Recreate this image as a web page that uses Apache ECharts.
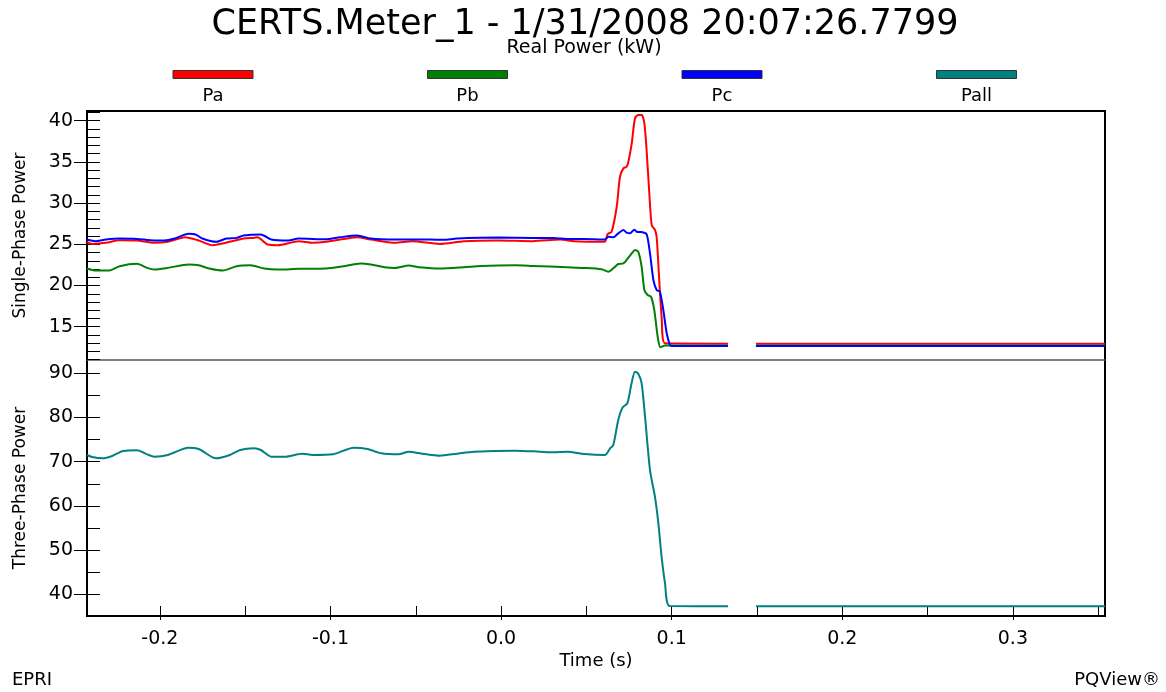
<!DOCTYPE html>
<html><head><meta charset="utf-8">
<script src="https://cdn.jsdelivr.net/npm/echarts@6/dist/echarts.min.js"></script>
<style>html,body{margin:0;padding:0;background:#fff}#c{width:1166px;height:692px}</style>
</head><body><div id="c"></div>
<script>
// ---- data (time in seconds, power in kW) ----
const paTime = [-0.2427,-0.2397,-0.2316,-0.2236,-0.2134,-0.2033,-0.1953,-0.1852,-0.1772,-0.1691,-0.1590,-0.1509,-0.1449,-0.1428,-0.1368,-0.1308,-0.1186,-0.1105,-0.1025,-0.0904,-0.0844,-0.0763,-0.0622,-0.0521,-0.0359,-0.0218,-0.0016,0.0186,0.0347,0.0428,0.0589,0.0609,0.0625,0.0648,0.0678,0.0697,0.0717,0.0736,0.0746,0.0766,0.0785,0.0804,0.0824,0.0840,0.0853,0.0869,0.0883,0.0902,0.0912,0.0926,0.0941,0.0961,0.1330,0.1410,0.1494,0.3540];
const paValues = [25.30,25.05,25.18,25.50,25.46,25.18,25.30,25.86,25.46,24.89,25.30,25.70,25.78,25.86,24.97,24.89,25.38,25.18,25.30,25.70,25.86,25.58,25.18,25.38,25.05,25.38,25.46,25.38,25.58,25.38,25.30,25.32,26.25,26.53,29.56,33.2,34.22,34.42,35.0,37.26,40.29,40.7,40.7,39.68,36.44,31.19,27.34,26.74,25.92,21.07,16.21,12.98,12.94,null,12.94,12.94];

const pbTime = [-0.2427,-0.2377,-0.2296,-0.2236,-0.2134,-0.2074,-0.2033,-0.1953,-0.1832,-0.1772,-0.1711,-0.1630,-0.1550,-0.1469,-0.1388,-0.1308,-0.1186,-0.1025,-0.0924,-0.0823,-0.0763,-0.0682,-0.0622,-0.0541,-0.0480,-0.0359,-0.0218,-0.0117,0.0084,0.0186,0.0387,0.0488,0.0589,0.0629,0.0658,0.0687,0.0717,0.0736,0.0766,0.0785,0.0804,0.0824,0.0840,0.0859,0.0879,0.0898,0.0918,0.0934,0.0961,0.1330,0.1410,0.1494,0.3540];
const pbValues = [22.06,21.82,21.82,22.34,22.63,22.14,21.94,22.14,22.55,22.46,22.06,21.82,22.34,22.46,22.06,21.94,22.02,22.06,22.34,22.67,22.55,22.22,22.14,22.42,22.22,22.06,22.22,22.38,22.46,22.38,22.22,22.14,21.98,21.67,22.09,22.61,22.69,23.1,23.9,24.31,24.1,22.28,19.45,18.85,18.64,17.03,13.79,12.5,12.72,12.72,null,12.72,12.72];

const pcTime = [-0.2427,-0.2377,-0.2316,-0.2236,-0.2134,-0.2033,-0.1973,-0.1913,-0.1832,-0.1791,-0.1751,-0.1670,-0.1610,-0.1550,-0.1509,-0.1408,-0.1347,-0.1247,-0.1186,-0.1025,-0.0944,-0.0844,-0.0763,-0.0622,-0.0419,-0.0339,-0.0258,-0.0016,0.0186,0.0306,0.0387,0.0488,0.0609,0.0629,0.0658,0.0687,0.0717,0.0736,0.0756,0.0781,0.0795,0.0824,0.0853,0.0873,0.0893,0.0912,0.0931,0.0951,0.0971,0.0990,0.1000,0.1330,0.1410,0.1494,0.3540];
const pcValues = [25.58,25.38,25.58,25.70,25.66,25.46,25.46,25.70,26.27,26.19,25.70,25.30,25.70,25.78,26.07,26.19,25.58,25.46,25.70,25.62,25.86,26.07,25.70,25.58,25.58,25.54,25.70,25.82,25.78,25.78,25.66,25.66,25.58,25.92,25.85,26.33,26.74,26.41,26.33,26.78,26.53,26.49,26.25,23.9,20.67,19.45,19.25,17.03,14.2,12.78,12.66,12.66,null,12.66,12.66];

const pallTime = [-0.2427,-0.2397,-0.2336,-0.2276,-0.2215,-0.2134,-0.2074,-0.2033,-0.1953,-0.1832,-0.1772,-0.1670,-0.1590,-0.1529,-0.1449,-0.1408,-0.1347,-0.1267,-0.1166,-0.1105,-0.0985,-0.0864,-0.0783,-0.0702,-0.0601,-0.0541,-0.0460,-0.0359,-0.0258,-0.0158,0.0084,0.0226,0.0306,0.0387,0.0488,0.0609,0.0639,0.0658,0.0687,0.0713,0.0740,0.0765,0.0785,0.0804,0.0824,0.0844,0.0873,0.0902,0.0922,0.0941,0.0961,0.0990,0.1330,0.1410,0.1494,0.3540];
const pallValues = [71.52,71.06,70.76,71.36,72.42,72.57,71.67,71.14,71.52,73.17,72.87,70.76,71.52,72.65,73.02,72.65,71.14,71.14,71.82,71.52,71.67,73.17,72.87,71.89,71.67,72.27,71.82,71.36,71.82,72.27,72.50,72.27,72.12,72.27,71.74,71.52,73.03,73.78,79.43,82.3,83.2,87.74,90.36,89.9,87.74,80.18,68.12,62.08,56.06,48.5,42.5,37.35,37.3,null,37.3,37.3];

const seriesNames = ['Pa','Pb','Pc','Pall'];
const seriesColors = ['#ff0000','#008000','#0000ff','#008080'];

// tick values
const xLabelTicks = [-0.2,-0.1,0,0.1,0.2,0.3];
const xAllTicks = [-0.2,-0.15,-0.1,-0.05,0,0.05,0.1,0.15,0.2,0.25,0.3,0.35];
const topLabelTicks = [15,20,25,30,35,40];
const topMinorTicks = [11,12,13,14,15,16,17,18,19,20,21,22,23,24,25,26,27,28,29,30,31,32,33,34,35,36,37,38,39,40,41];
const botLabelTicks = [40,50,60,70,80,90];
const botMinorTicks = [40,45,50,55,60,65,70,75,80,85,90];

const X_MIN = -0.2427, X_MAX = 0.354;
const TOP_MIN = 10.96, TOP_MAX = 41.18;
const BOT_MIN = 35.09, BOT_MAX = 93.01;

const FONT = 'DejaVu Sans';
const zip = (t, v) => t.map((x, i) => [x, v[i] === null ? '-' : v[i]]);

const chart = echarts.init(document.getElementById('c'), null, {renderer: 'canvas'});

const labelStyle = {color: '#000', fontFamily: FONT, fontSize: 19};
function yAxes(grid, min, max, labels, minors, name) {
  return [
    {type: 'value', gridIndex: grid, position: 'left', min, max,
     axisLine: {show: false, onZero: false}, splitLine: {show: false},
     axisTick: {show: true, inside: false, length: 13, customValues: labels, lineStyle: {color: '#000', width: 1}},
     axisLabel: Object.assign({customValues: labels, margin: 14}, labelStyle),
     name, nameLocation: 'middle', nameGap: 58, nameRotate: 90,
     nameTextStyle: {color: '#000', fontFamily: FONT, fontSize: 17}},
    {type: 'value', gridIndex: grid, position: 'left', min, max,
     axisLine: {show: false, onZero: false}, splitLine: {show: false}, axisLabel: {show: false},
     axisTick: {show: true, inside: true, length: 13, customValues: minors, lineStyle: {color: '#000', width: 1}}}
  ];
}

const option = {
  animation: false,
  backgroundColor: '#fff',
  grid: [
    {left: 87, top: 111, width: 1018, height: 249, show: false},
    {left: 87, top: 360, width: 1018, height: 256, show: false},
    {left: 87, top: 111, width: 1018, height: 505, show: true, borderColor: '#000', borderWidth: 2, backgroundColor: 'transparent'}
  ],
  xAxis: [
    {type: 'value', gridIndex: 0, position: 'bottom', min: X_MIN, max: X_MAX,
     axisLine: {show: true, onZero: false, lineStyle: {color: '#555', width: 1.5}}, axisTick: {show: false},
     axisLabel: {show: false}, splitLine: {show: false}},
    {type: 'value', gridIndex: 1, position: 'bottom', min: X_MIN, max: X_MAX,
     axisLine: {show: false, onZero: false}, splitLine: {show: false},
     axisTick: {show: true, inside: false, length: 4, customValues: xLabelTicks, lineStyle: {color: '#000'}},
     axisLabel: Object.assign({customValues: xLabelTicks, margin: 14, formatter: v => v.toFixed(1)}, labelStyle),
     name: 'Time (s)', nameLocation: 'middle', nameGap: 36,
     nameTextStyle: {color: '#000', fontFamily: FONT, fontSize: 18}},
    {type: 'value', gridIndex: 1, position: 'bottom', min: X_MIN, max: X_MAX,
     axisLine: {show: false, onZero: false}, splitLine: {show: false}, axisLabel: {show: false},
     axisTick: {show: true, inside: true, length: 10, customValues: xAllTicks, lineStyle: {color: '#000'}}},
    {type: 'value', gridIndex: 2, show: false, min: 0, max: 1, axisLine: {onZero: false}}
  ],
  yAxis: [
    ...yAxes(0, TOP_MIN, TOP_MAX, topLabelTicks, topMinorTicks, 'Single-Phase Power'),
    ...yAxes(1, BOT_MIN, BOT_MAX, botLabelTicks, botMinorTicks, 'Three-Phase Power'),
    {type: 'value', gridIndex: 2, show: false, min: 0, max: 1, axisLine: {onZero: false}}
  ],
  series: [
    {name: 'Pa', type: 'line', xAxisIndex: 0, yAxisIndex: 0, data: zip(paTime, paValues)},
    {name: 'Pb', type: 'line', xAxisIndex: 0, yAxisIndex: 0, data: zip(pbTime, pbValues)},
    {name: 'Pc', type: 'line', xAxisIndex: 0, yAxisIndex: 0, data: zip(pcTime, pcValues)},
    {name: 'Pall', type: 'line', xAxisIndex: 1, yAxisIndex: 2, data: zip(pallTime, pallValues)}
  ].map((s, i) => Object.assign(s, {
    showSymbol: false, symbol: 'none', smooth: 0.25, connectNulls: false,
    lineStyle: {color: seriesColors[i], width: 2}, itemStyle: {color: seriesColors[i]}, z: 5
  })),
  graphic: [
    {type: 'text', x: 585, y: 25, style: {text: 'CERTS.Meter_1 - 1/31/2008 20:07:26.7799', font: '35px "DejaVu Sans"', fill: '#000', align: 'center', verticalAlign: 'middle', textAlign: 'center', textVerticalAlign: 'middle'}},
    {type: 'text', x: 584, y: 48, style: {text: 'Real Power (kW)', font: '19px "DejaVu Sans"', fill: '#000', align: 'center', verticalAlign: 'middle', textAlign: 'center', textVerticalAlign: 'middle'}},
    ...seriesNames.map((n, i) => ({type: 'rect', shape: {x: 173 + i * 254.5, y: 70.5, width: 80, height: 8}, style: {fill: seriesColors[i], stroke: '#333', lineWidth: 1}})),
    ...seriesNames.map((n, i) => ({type: 'text', x: 213 + i * 254.5, y: 96, style: {text: n, font: '18px "DejaVu Sans"', fill: '#000', align: 'center', verticalAlign: 'middle', textAlign: 'center', textVerticalAlign: 'middle'}})),
    {type: 'text', x: 12, y: 680, style: {text: 'EPRI', font: '18px "DejaVu Sans"', fill: '#000', align: 'left', verticalAlign: 'middle', textAlign: 'left', textVerticalAlign: 'middle'}},
    {type: 'text', x: 1160, y: 680, style: {text: 'PQView®', font: '18px "DejaVu Sans"', fill: '#000', align: 'right', verticalAlign: 'middle', textAlign: 'right', textVerticalAlign: 'middle'}}
  ]
};
chart.setOption(option);
</script>
</body></html>
